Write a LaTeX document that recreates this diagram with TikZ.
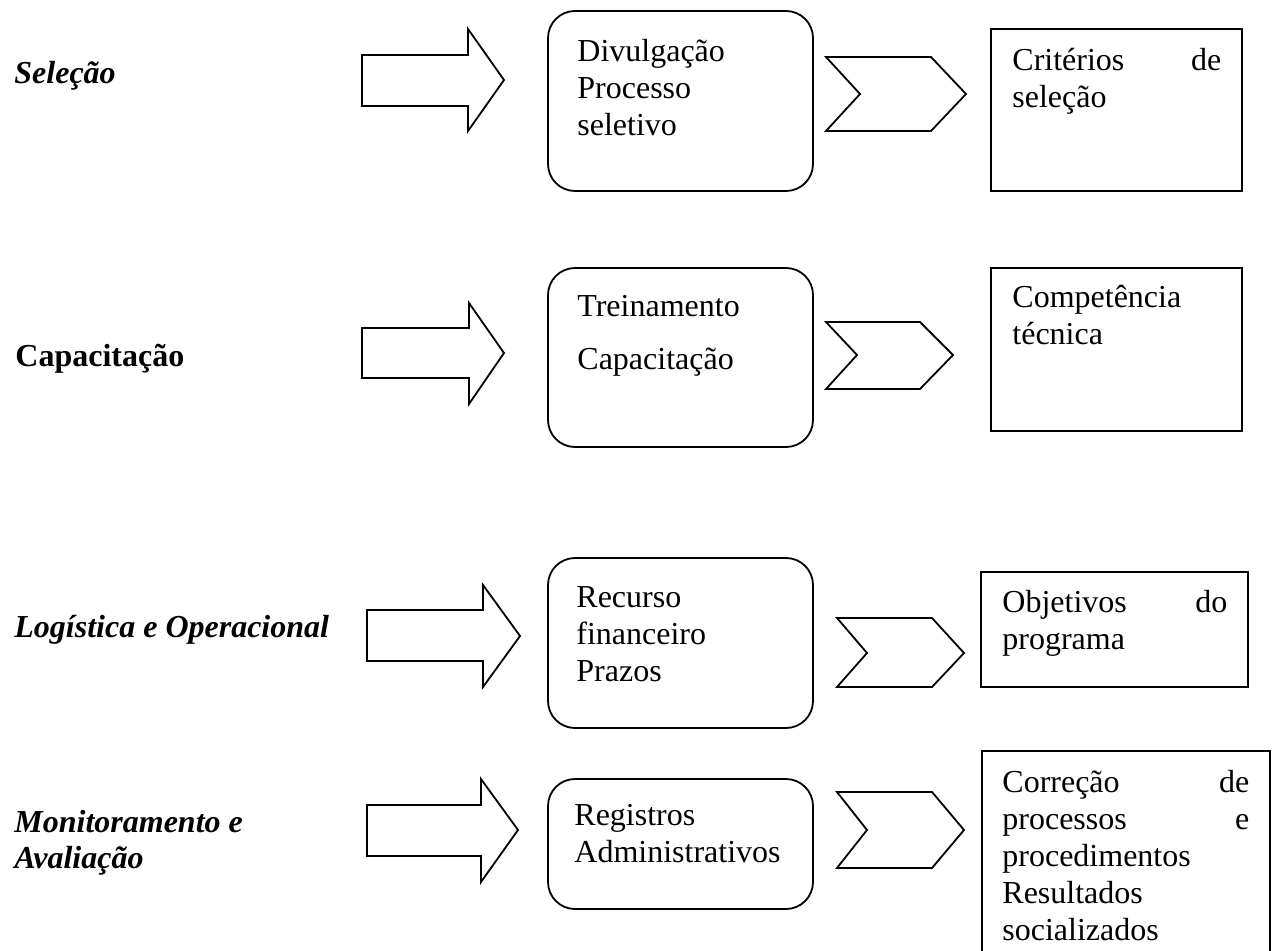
\documentclass[tikz,border=0pt]{standalone}
\usepackage{fontspec}
\setmainfont{Liberation Serif}
\usetikzlibrary{fit}
\tikzset{
  shape line/.style={draw=black, line width=0.9pt, line join=miter},
  rbox/.style={shape line, rectangle, rounded corners=13.5pt, inner sep=0pt},
  sbox/.style={shape line, rectangle, inner sep=0pt},
  txt/.style={inner sep=0pt, anchor=base west, align=left, font=\fontsize{16}{18.5}\selectfont},
  lbl/.style={inner sep=0pt, anchor=base west, font=\fontsize{16}{18.5}\selectfont\bfseries\itshape},
  lblup/.style={inner sep=0pt, anchor=base west, font=\fontsize{16}{18.5}\selectfont\bfseries},
}
\begin{document}
\begin{tikzpicture}[x=0.5pt, y=-0.5pt]
\useasboundingbox (0,0) rectangle (1278,951);

% ---------- Row 1: Seleção ----------
\node[lbl] (l1) at (14,84) {Seleção};
\draw[shape line] (362,55) -- (468,55) -- (468,29) -- (504,80) -- (468,131) -- (468,106) -- (362,106) -- cycle;
\node[rbox, fit={(548,11) (813,191)}] (b1) {};
\node[txt, text width=130pt] (t1) at (577,62) {Divulgação\\Processo\\seletivo};
\draw[shape line] (826,57) -- (931,57) -- (966,94) -- (931,131) -- (826,131) -- (860,94) -- cycle;
\node[sbox, fit={(991,29) (1242,191)}] (c1) {};
\node[txt, text width=104.5pt] (u1) at (1012,71) {Critérios\hfill de\\seleção};

% ---------- Row 2: Capacitação ----------
\node[lblup] (l2) at (15,367) {Capacitação};
\draw[shape line] (362,328) -- (469,328) -- (469,303) -- (504,353) -- (469,404) -- (469,378) -- (362,378) -- cycle;
\node[rbox, fit={(548,268) (813,447)}] (b2) {};
\node[txt] (t2a) at (577,317) {Treinamento};
\node[txt] (t2b) at (577,370) {Capacitação};
\draw[shape line] (826,322) -- (920,322) -- (953,355) -- (920,389) -- (826,389) -- (857,355) -- cycle;
\node[sbox, fit={(991,268) (1242,431)}] (c2) {};
\node[txt, text width=110pt] (u2) at (1012,308) {Competência\\técnica};

% ---------- Row 3: Logística e Operacional ----------
\node[lbl] (l3) at (14,637) {Logística e Operacional};
\draw[shape line] (367,610) -- (483,610) -- (483,585) -- (520,636) -- (483,687) -- (483,661) -- (367,661) -- cycle;
\node[rbox, fit={(548,558) (813,728)}] (b3) {};
\node[txt, text width=130pt] (t3) at (576,607) {Recurso\\financeiro\\Prazos};
\draw[shape line] (837,618) -- (932,618) -- (964,653) -- (932,687) -- (837,687) -- (867,653) -- cycle;
\node[sbox, fit={(981,572) (1248,687)}] (c3) {};
\node[txt, text width=112.5pt] (u3) at (1002,612) {Objetivos\hfill do\\programa};

% ---------- Row 4: Monitoramento e Avaliação ----------
\node[lbl] (l4a) at (14,832) {Monitoramento e};
\node[lbl] (l4b) at (14,868) {Avaliação};
\draw[shape line] (367,805) -- (481,805) -- (481,779) -- (518,830) -- (481,882) -- (481,856) -- (367,856) -- cycle;
\node[rbox, fit={(548,779) (813,909)}] (b4) {};
\node[txt, text width=130pt] (t4) at (574,825) {Registros\\Administrativos};
\draw[shape line] (837,792) -- (932,792) -- (964,830) -- (932,868) -- (837,868) -- (867,830) -- cycle;
\node[sbox, fit={(982,751) (1270,990)}] (c4) {};
\node[txt, text width=123.5pt] (u4) at (1002,792) {Correção\hfill de\\processos\hfill e\\procedimentos\\Resultados\\socializados};
\end{tikzpicture}
\end{document}
